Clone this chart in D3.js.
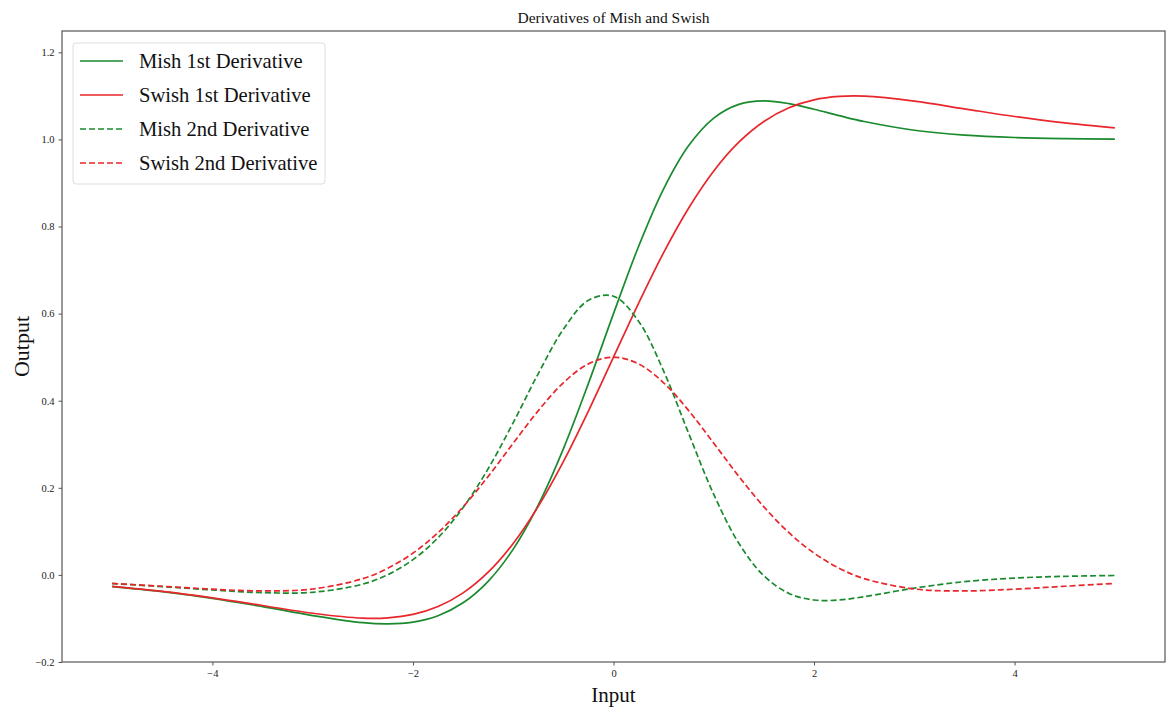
<!DOCTYPE html>
<html>
<head>
<meta charset="utf-8">
<script src="https://cdn.jsdelivr.net/npm/d3@7"></script>
<style>
  html, body { margin: 0; padding: 0; background: #fff; }
  svg { display: block; }
  text { font-family: "Liberation Serif", "Times New Roman", serif; }
</style>
</head>
<body>
<svg id="chart" width="1170" height="710"></svg>
<script>
const xs = [-5,-4.5,-4,-3.5,-3,-2.5,-2.25,-2,-1.75,-1.5,-1.25,-1,-0.75,-0.5,-0.25,0,0.25,0.5,0.75,1,1.25,1.5,1.75,2,2.25,2.5,3,3.5,4,4.5,5];
const mish1 = [-0.0267,-0.0384,-0.0538,-0.0728,-0.0934,-0.1097,-0.1125,-0.1084,-0.0937,-0.0641,-0.0147,0.0592,0.1607,0.2895,0.4398,0.6000,0.7542,0.8864,0.9858,1.0490,1.0805,1.0885,1.0823,1.0693,1.0547,1.0411,1.0211,1.0099,1.0044,1.0019,1.0008];
const swish1 = [-0.0265,-0.0379,-0.0527,-0.0703,-0.0881,-0.0994,-0.0987,-0.0908,-0.0727,-0.0413,0.0063,0.0723,0.1574,0.2600,0.3763,0.5000,0.6237,0.7400,0.8426,0.9277,0.9937,1.0413,1.0727,1.0908,1.0987,1.0994,1.0881,1.0703,1.0527,1.0379,1.0265];
const mish2 = [-0.0199,-0.0269,-0.0346,-0.0407,-0.0399,-0.0211,0.0007,0.0350,0.0853,0.1546,0.2438,0.3497,0.4624,0.5640,0.6306,0.6400,0.5824,0.4681,0.3246,0.1847,0.0726,-0.0022,-0.0425,-0.0577,-0.0576,-0.0500,-0.0303,-0.0156,-0.0073,-0.0033,-0.0014];
const swish2 = [-0.0195,-0.0261,-0.0328,-0.0368,-0.0323,-0.0085,0.0154,0.0501,0.0969,0.1562,0.2262,0.3024,0.3772,0.4412,0.4846,0.5000,0.4846,0.4412,0.3772,0.3024,0.2262,0.1562,0.0969,0.0501,0.0154,-0.0085,-0.0323,-0.0368,-0.0328,-0.0261,-0.0195];
const seriesNames = ["Mish 1st Derivative","Swish 1st Derivative","Mish 2nd Derivative","Swish 2nd Derivative"];
const xTicks = [-4,-2,0,2,4];
const yTicks = [-0.2,0.0,0.2,0.4,0.6,0.8,1.0,1.2];

const series = [
  {name: seriesNames[0], values: mish1, color: "#1a8a2e", dash: null},
  {name: seriesNames[1], values: swish1, color: "#e8262b", dash: null},
  {name: seriesNames[2], values: mish2, color: "#1a8a2e", dash: "6,3"},
  {name: seriesNames[3], values: swish2, color: "#e8262b", dash: "6,3"}
];

const svg = d3.select("#chart");
const L = 62, R = 1165, T = 31, B = 662;
const x = d3.scaleLinear().domain([-5.5, 5.5]).range([L, R]);
const y = d3.scaleLinear().domain([-0.2, 1.249]).range([B, T]);

const line = d3.line().x(d => x(d[0])).y(d => y(d[1])).curve(d3.curveCatmullRom.alpha(0.5));

const plot = svg.append("g");
series.forEach(s => {
  plot.append("path")
    .datum(xs.map((v, i) => [v, s.values[i]]))
    .attr("fill", "none")
    .attr("stroke", s.color)
    .attr("stroke-width", 1.7)
    .attr("stroke-dasharray", s.dash)
    .attr("d", line);
});

// frame
svg.append("rect").attr("x", L).attr("y", T).attr("width", R - L).attr("height", B - T)
  .attr("fill", "none").attr("stroke", "#555").attr("stroke-width", 1.2);

const xAxis = svg.append("g").attr("transform", `translate(0,${B})`)
  .call(d3.axisBottom(x).tickValues(xTicks).tickSize(3.5).tickPadding(4).tickFormat(d => d < 0 ? "\u2212" + Math.abs(d) : d));
const yAxis = svg.append("g").attr("transform", `translate(${L},0)`)
  .call(d3.axisLeft(y).tickValues(yTicks).tickSize(3.5).tickPadding(4).tickFormat(d => d < 0 ? "\u2212" + d3.format(".1f")(Math.abs(d)) : d3.format(".1f")(d)));
[xAxis, yAxis].forEach(a => {
  a.select(".domain").remove();
  a.selectAll(".tick line").attr("stroke", "#555");
  a.selectAll(".tick text").attr("fill", "#222").style("font-family", "Liberation Serif, serif").style("font-size", "10.5px");
});

svg.append("text").attr("x", (L + R) / 2).attr("y", 22.5).attr("text-anchor", "middle")
  .style("font-size", "15.5px").attr("fill", "#111").text("Derivatives of Mish and Swish");
svg.append("text").attr("x", (L + R) / 2).attr("y", 702).attr("text-anchor", "middle")
  .style("font-size", "21px").attr("fill", "#111").text("Input");
svg.append("text").attr("transform", `translate(29,${(T + B) / 2}) rotate(-90)`).attr("text-anchor", "middle")
  .style("font-size", "22px").attr("fill", "#111").text("Output");

// legend
const lg = svg.append("g");
lg.append("rect").attr("x", 73).attr("y", 43).attr("width", 252).attr("height", 141).attr("rx", 3)
  .attr("fill", "#fff").attr("fill-opacity", 0.85).attr("stroke", "#ddd").attr("stroke-width", 1);
series.forEach((s, i) => {
  const cy = 61 + i * 34;
  lg.append("line").attr("x1", 80).attr("x2", 123).attr("y1", cy).attr("y2", cy)
    .attr("stroke", s.color).attr("stroke-width", 1.7).attr("stroke-dasharray", s.dash);
  lg.append("text").attr("x", 139).attr("y", cy + 7).style("font-size", "20.6px").attr("fill", "#111").text(s.name);
});
</script>
</body>
</html>
